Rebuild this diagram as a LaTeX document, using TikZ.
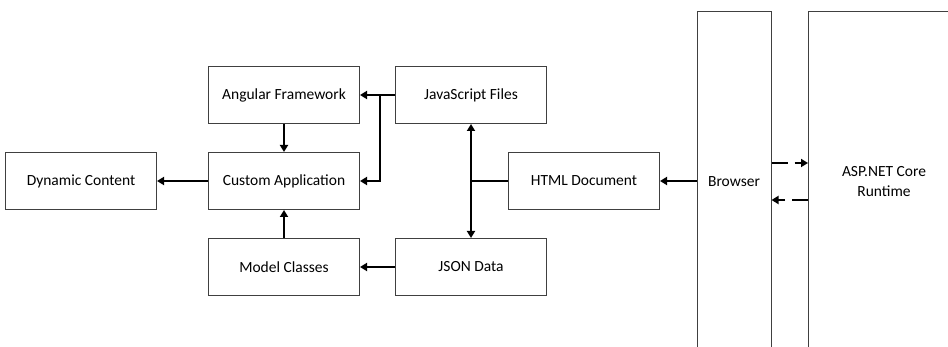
\documentclass[tikz,border=0pt]{standalone}
\usepackage{fontspec}
\setmainfont{Carlito}
\usetikzlibrary{arrows.meta}
\tikzset{
  box/.style={draw=black!75, line width=1pt, minimum width=151pt, minimum height=57pt,
    inner sep=0pt, align=center, font=\fontsize{15.5}{20}\selectfont, text=black},
  arr/.style={line width=2pt, -{Triangle[length=7pt,width=8pt]}},
  link/.style={line width=2pt}
}
\begin{document}
\begin{tikzpicture}[x=1pt,y=-1pt]
      \clip (0,0) rectangle (948,347);
      \node[box] (angular) at (284,95) {Angular Framework};
      \node[box] (jsfiles) at (471,95) {JavaScript Files};
      \node[box] (dynamic) at (81,181) {Dynamic Content};
      \node[box] (custom) at (284,181) {Custom Application};
      \node[box] (html) at (584,181) {HTML Document};
      \node[box] (model) at (284,267) {Model Classes};
      \node[box] (json) at (471,267) {JSON Data};
      \node[box, minimum width=74pt, minimum height=341pt] (browser) at (734,182) {Browser};
      \node[box, minimum height=341pt] (runtime) at (884,182) {ASP.NET Core\\Runtime};
      \coordinate (jsjoin) at (380,95);
      \coordinate (htmljoin) at (471,181);
      \begin{scope}
        \draw[arr] (jsfiles) to (angular);
        \draw[arr] (jsjoin) |- (custom);
        \draw[arr] (angular) to (custom);
        \draw[arr] (custom) to (dynamic);
        \draw[arr] (model) to (custom);
        \draw[arr] (json) to (model);
        \draw[arr, {Triangle[length=7pt,width=8pt]}-{Triangle[length=7pt,width=8pt]}] (jsfiles) to (json);
        \draw[link] (html) to (htmljoin);
        \draw[arr] (browser.west |- html) to (html);
        \draw[arr, dash pattern=on 16pt off 7pt] ([yshift=19pt]browser.east) to ([yshift=19pt]runtime.west);
        \draw[arr, dash pattern=on 16pt off 7pt] ([yshift=-18pt]runtime.west) to ([yshift=-18pt]browser.east);
      \end{scope}
    \end{tikzpicture}
\end{document}
